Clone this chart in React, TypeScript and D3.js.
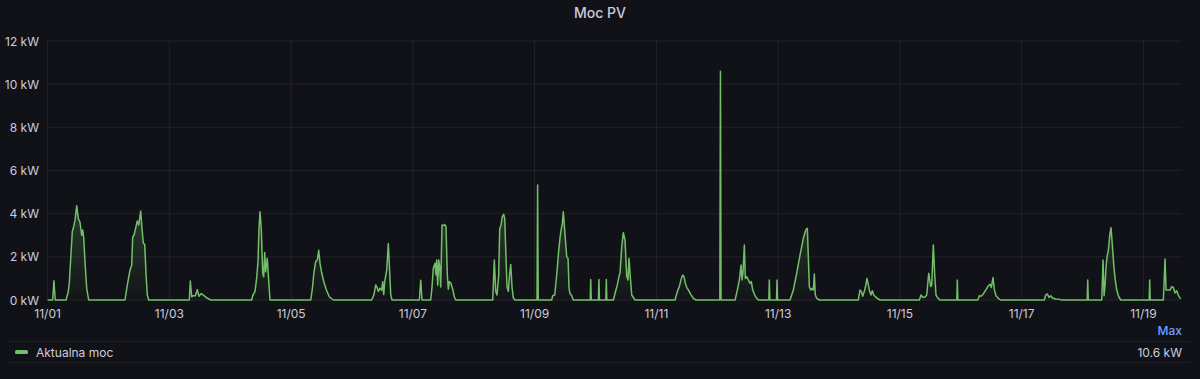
import React from "react";
import * as d3 from "d3";

// ---------- data (hour of day, kW) per day ----------
const chartTitle = "Moc PV";
const seriesName = "Aktualna moc";
const statName = "Max";
const yTickValues = [0, 2, 4, 6, 8, 10, 12];
const xTickLabels = ["11/01", "11/03", "11/05", "11/07", "11/09", "11/11", "11/13", "11/15", "11/17", "11/19"];
const totalHours = 447.1;

const nov01 = [[0, 0], [2.0, 0], [2.5, 0.89], [3.0, 0], [7.25, 0], [8.16, 0.38], [8.56, 0.8], [9.74, 3.17], [10.13, 3.32], [10.8, 3.7], [11.47, 4.37], [12.1, 3.78], [12.77, 3.6], [13.44, 3.0], [13.84, 3.24], [14.23, 2.9], [14.74, 1.77], [15.41, 0.55], [16.2, 0]];
const nov02 = [[6.51, 0], [7.42, 0.69], [8.49, 1.39], [9.15, 1.6], [9.55, 2.93], [10.06, 3.0], [10.85, 3.4], [11.36, 3.66], [11.92, 3.47], [12.7, 4.12], [13.22, 3.3], [13.73, 2.63], [14.28, 2.58], [14.79, 1.24], [15.31, 0.23], [15.86, 0]];
const nov03 = [[7.87, 0], [8.26, 0.88], [8.81, 0.15], [9.44, 0.2], [10.23, 0.2], [11.02, 0.48], [11.69, 0.17], [12.6, 0.3], [13.66, 0.2], [14.72, 0.1], [16.3, 0]];
const nov04 = [[8.47, 0], [8.86, 0.2], [9.77, 0.4], [10.44, 1.04], [10.95, 1.78], [11.34, 3.3], [11.74, 4.09], [12.25, 3.3], [12.8, 1.24], [13.19, 1.08], [13.59, 2.2], [13.98, 1.31], [14.61, 1.93], [15.17, 0.87], [15.68, 0]];
const nov05 = [[7.73, 0], [8.36, 0.5], [9.03, 1.3], [9.7, 1.78], [10.33, 1.85], [10.88, 2.3], [11.4, 1.7], [12.06, 1.25], [12.97, 0.8], [14.04, 0.43], [15.06, 0.15], [16.64, 0]];
const nov06 = [[7.78, 0], [8.68, 0.25], [9.35, 0.7], [9.86, 0.58], [10.38, 0.4], [11.05, 0.55], [11.72, 0.45], [12.11, 0.85], [12.51, 0.25], [12.9, 0.85], [13.69, 1.39], [14.32, 2.62], [14.87, 1.3], [15.27, 0.25], [15.78, 0]];
const nov07 = [[2.54, 0], [3.1, 0.91], [3.61, 0], [7.04, 0], [7.55, 0.6], [8.06, 1.47], [8.73, 1.7], [9.13, 1.16], [9.4, 1.85], [9.8, 0.69], [10.19, 1.85], [10.58, 1.54], [10.98, 0.6], [11.49, 3.47], [12.0, 3.45], [12.56, 3.5], [13.07, 3.4], [13.58, 1.16], [13.98, 0.5], [14.37, 0.85], [14.92, 0.8], [15.71, 0.5], [16.34, 0.15], [16.89, 0]];
const nov08 = [[7.48, 0], [8.11, 1.85], [8.66, 0.4], [9.17, 0.23], [9.84, 1.16], [10.24, 3.3], [10.75, 3.47], [11.26, 3.86], [11.82, 3.97], [12.21, 3.78], [12.6, 2.4], [13.12, 0.6], [13.63, 0.4], [14.18, 1.24], [14.58, 1.65], [15.09, 0.6], [15.6, 0.1], [16.27, 0]];
const nov09 = [[0.94, 0], [1.18, 5.33], [1.42, 0], [6.74, 0], [7.13, 0.2], [7.92, 0.23], [8.71, 1.16], [9.5, 2.3], [10.13, 3.0], [10.53, 3.3], [10.92, 3.55], [11.31, 4.09], [11.71, 3.47], [12.1, 2.85], [12.65, 2.0], [13.17, 1.93], [13.56, 0.55], [13.96, 0.3], [14.63, 0.2], [15.26, 0], [21.92, 0], [22.12, 0.95], [22.32, 0]];
const nov10 = [[1.15, 0], [1.35, 0.95], [1.55, 0], [4.07, 0], [4.27, 0.95], [4.47, 0], [7.03, 0], [7.97, 0.43], [8.6, 0.7], [9.39, 1.16], [9.67, 1.24], [10.34, 2.47], [10.97, 3.12], [11.64, 2.78], [12.31, 1.1], [12.82, 0.93], [13.21, 1.93], [13.61, 1.24], [14.28, 0.23], [15.58, 0]];
const nov11 = [[7.35, 0], [8.26, 0.39], [9.05, 0.62], [9.84, 1.0], [10.39, 1.16], [10.9, 1.08], [11.42, 0.77], [11.97, 0.59], [12.76, 0.43], [13.55, 0.26], [14.57, 0.08], [15.64, 0]];
const nov12 = [[1.02, 0], [1.26, 10.6], [1.49, 0], [7.01, 0], [7.92, 0.46], [8.71, 0.93], [9.38, 1.62], [9.77, 0.93], [10.16, 1.31], [10.68, 2.55], [11.07, 1.0], [11.62, 1.08], [12.25, 0.93], [12.92, 0.77], [13.43, 0.85], [13.99, 0.46], [14.78, 0.23], [15.56, 0.08], [16.2, 0], [20.33, 0], [20.53, 0.93], [20.73, 0], [23.36, 0], [23.56, 0.93], [23.76, 0]];
const nov13 = [[4.69, 0], [5.99, 0.46], [7.33, 1.24], [8.63, 2.08], [9.93, 2.86], [10.88, 3.24], [11.51, 3.32], [11.9, 2.0], [12.3, 0.62], [12.85, 0.46], [13.36, 0.54], [13.88, 0.46], [14.27, 1.2], [14.66, 0.23], [15.21, 0.08], [16.24, 0]];
const nov14 = [[7.6, 0], [8.27, 0.46], [8.78, 0.39], [9.34, 0.17], [9.97, 0.39], [10.52, 0.66], [11.03, 1.0], [11.55, 0.7], [12.1, 0.39], [12.61, 0.23], [13.13, 0.43], [13.68, 0.23], [14.19, 0.17], [14.86, 0.1], [16.16, 0]];
const nov15 = [[7.67, 0], [8.34, 0.23], [9.01, 0.12], [10.03, 0.15], [10.58, 0.23], [11.37, 1.24], [12.16, 0.62], [12.55, 0.7], [13.18, 2.55], [13.73, 1.16], [14.24, 0.23], [14.91, 0.1], [15.82, 0], [22.44, 0], [22.64, 0.93], [22.84, 0]];
const nov16 = [[6.69, 0], [7.32, 0.2], [7.99, 0.17], [8.89, 0.28], [9.96, 0.48], [10.86, 0.66], [11.53, 0.73], [12.05, 0.58], [12.72, 1.04], [13.23, 0.48], [13.9, 0.2], [14.8, 0.08], [15.75, 0]];
const nov17 = [[8.94, 0], [9.49, 0.23], [10.12, 0.28], [10.79, 0.12], [11.46, 0.2], [12.25, 0.08], [13.55, 0.05], [14.85, 0.03], [15.8, 0]];
const nov18 = [[1.86, 0], [2.06, 0.93], [2.26, 0], [7.58, 0], [8.09, 1.85], [8.49, 0.2], [8.88, 0.69], [9.27, 1.54], [9.67, 2.0], [10.18, 2.3], [10.73, 3.0], [11.24, 3.35], [11.76, 2.55], [12.31, 1.62], [12.82, 1.0], [13.49, 0.46], [14.28, 0.15], [15.07, 0]];
const nov19 = [[2.28, 0], [2.48, 0.93], [2.68, 0], [7.87, 0], [8.53, 1.9], [8.93, 0.46], [9.84, 0.46], [10.51, 0.46], [11.18, 0.62], [11.81, 0.58], [12.48, 0.33], [13.15, 0.43], [13.73, 0.23], [14.7, 0.05]];

const days = [nov01, nov02, nov03, nov04, nov05, nov06, nov07, nov08, nov09, nov10, nov11, nov12, nov13, nov14, nov15, nov16, nov17, nov18, nov19];

// ---------- layout ----------
const W = 1200;
const H = 379;
const plotLeft = 47.6;
const plotRight = 1181.7;
const plotTop = 41;
const plotBottom = 300;

const BG = "#111217";
const TEXT = "#ccccdc";
const GRID = "rgba(204,204,220,0.09)";
const GREEN = "#73BF69";
const FONT = "Inter, 'Noto Sans', sans-serif";

const START = Date.UTC(2023, 10, 1, 0, 0, 0);
const HOUR = 3600 * 1000;

type Pt = { t: Date; v: number };

const samples: Pt[] = days.flatMap((d, i) =>
  d.map(([h, v]) => ({ t: new Date(START + (i * 24 + h) * HOUR), v }))
);

export default function App() {
  const x = d3
    .scaleUtc()
    .domain([new Date(START), new Date(START + totalHours * HOUR)])
    .range([plotLeft, plotRight]);
  const y = d3.scaleLinear().domain([0, 12]).range([plotBottom, plotTop]);

  const line = d3
    .line<Pt>()
    .x((d) => x(d.t))
    .y((d) => y(d.v));
  const area = d3
    .area<Pt>()
    .x((d) => x(d.t))
    .y0(y(0))
    .y1((d) => y(d.v));

  const xTicks = xTickLabels.map((lab) => {
    const [m, dd] = lab.split("/").map(Number);
    return { lab, t: new Date(Date.UTC(2023, m - 1, dd)) };
  });

  const maxV = d3.max(samples, (d) => d.v) ?? 0;
  const maxLabel = `${d3.format(".1f")(maxV)} kW`;

  return (
    <div style={{ position: "absolute", left: 0, top: 0, width: W, height: H, background: BG }}>
      <svg width={W} height={H} style={{ display: "block", fontFamily: FONT }}>
        <defs>
          <linearGradient id="fillGrad" gradientUnits="userSpaceOnUse" x1="0" x2="0" y1={y(6)} y2={y(0)}>
            <stop offset="0%" stopColor={GREEN} stopOpacity={0.32} />
            <stop offset="100%" stopColor={GREEN} stopOpacity={0.02} />
          </linearGradient>
        </defs>
        <rect x={0} y={0} width={W} height={H} fill={BG} />

        <text x={W / 2} y={12} textAnchor="middle" dominantBaseline="central" fill={TEXT} fontSize={14} fontWeight={500}>
          {chartTitle}
        </text>

        {/* grid */}
        {yTickValues.map((v) => (
          <line key={"gy" + v} x1={plotLeft} x2={plotRight} y1={y(v)} y2={y(v)} stroke={GRID} strokeWidth={1} />
        ))}
        {xTicks.map((t) => (
          <line key={"gx" + t.lab} x1={x(t.t)} x2={x(t.t)} y1={plotTop} y2={plotBottom} stroke={GRID} strokeWidth={1} />
        ))}

        {/* y labels */}
        {yTickValues.map((v) => (
          <text key={"ly" + v} x={39} y={y(v)} textAnchor="end" dominantBaseline="central" fill={TEXT} fontSize={12}>
            {`${v} kW`}
          </text>
        ))}
        {/* x labels */}
        {xTicks.map((t) => (
          <text key={"lx" + t.lab} x={x(t.t)} y={313} textAnchor="middle" dominantBaseline="central" fill={TEXT} fontSize={12}>
            {t.lab}
          </text>
        ))}

        {/* series */}
        <path d={area(samples) ?? ""} fill="url(#fillGrad)" stroke="none" />
        <path d={line(samples) ?? ""} fill="none" stroke={GREEN} strokeWidth={1.5} strokeLinejoin="round" />

        {/* legend */}
        <text x={1182} y={330} textAnchor="end" dominantBaseline="central" fill="#6E9FFF" fontSize={12} fontWeight={500}>
          {statName}
        </text>
        <line x1={8} x2={1190} y1={341.5} y2={341.5} stroke="rgba(204,204,220,0.07)" />
        <line x1={8} x2={1190} y1={362.5} y2={362.5} stroke="rgba(204,204,220,0.07)" />
        <rect x={15} y={350} width={13} height={4} rx={1.5} fill={GREEN} />
        <text x={36} y={352} dominantBaseline="central" fill={TEXT} fontSize={12}>
          {seriesName}
        </text>
        <text x={1182} y={352} textAnchor="end" dominantBaseline="central" fill={TEXT} fontSize={12}>
          {maxLabel}
        </text>
      </svg>
    </div>
  );
}
